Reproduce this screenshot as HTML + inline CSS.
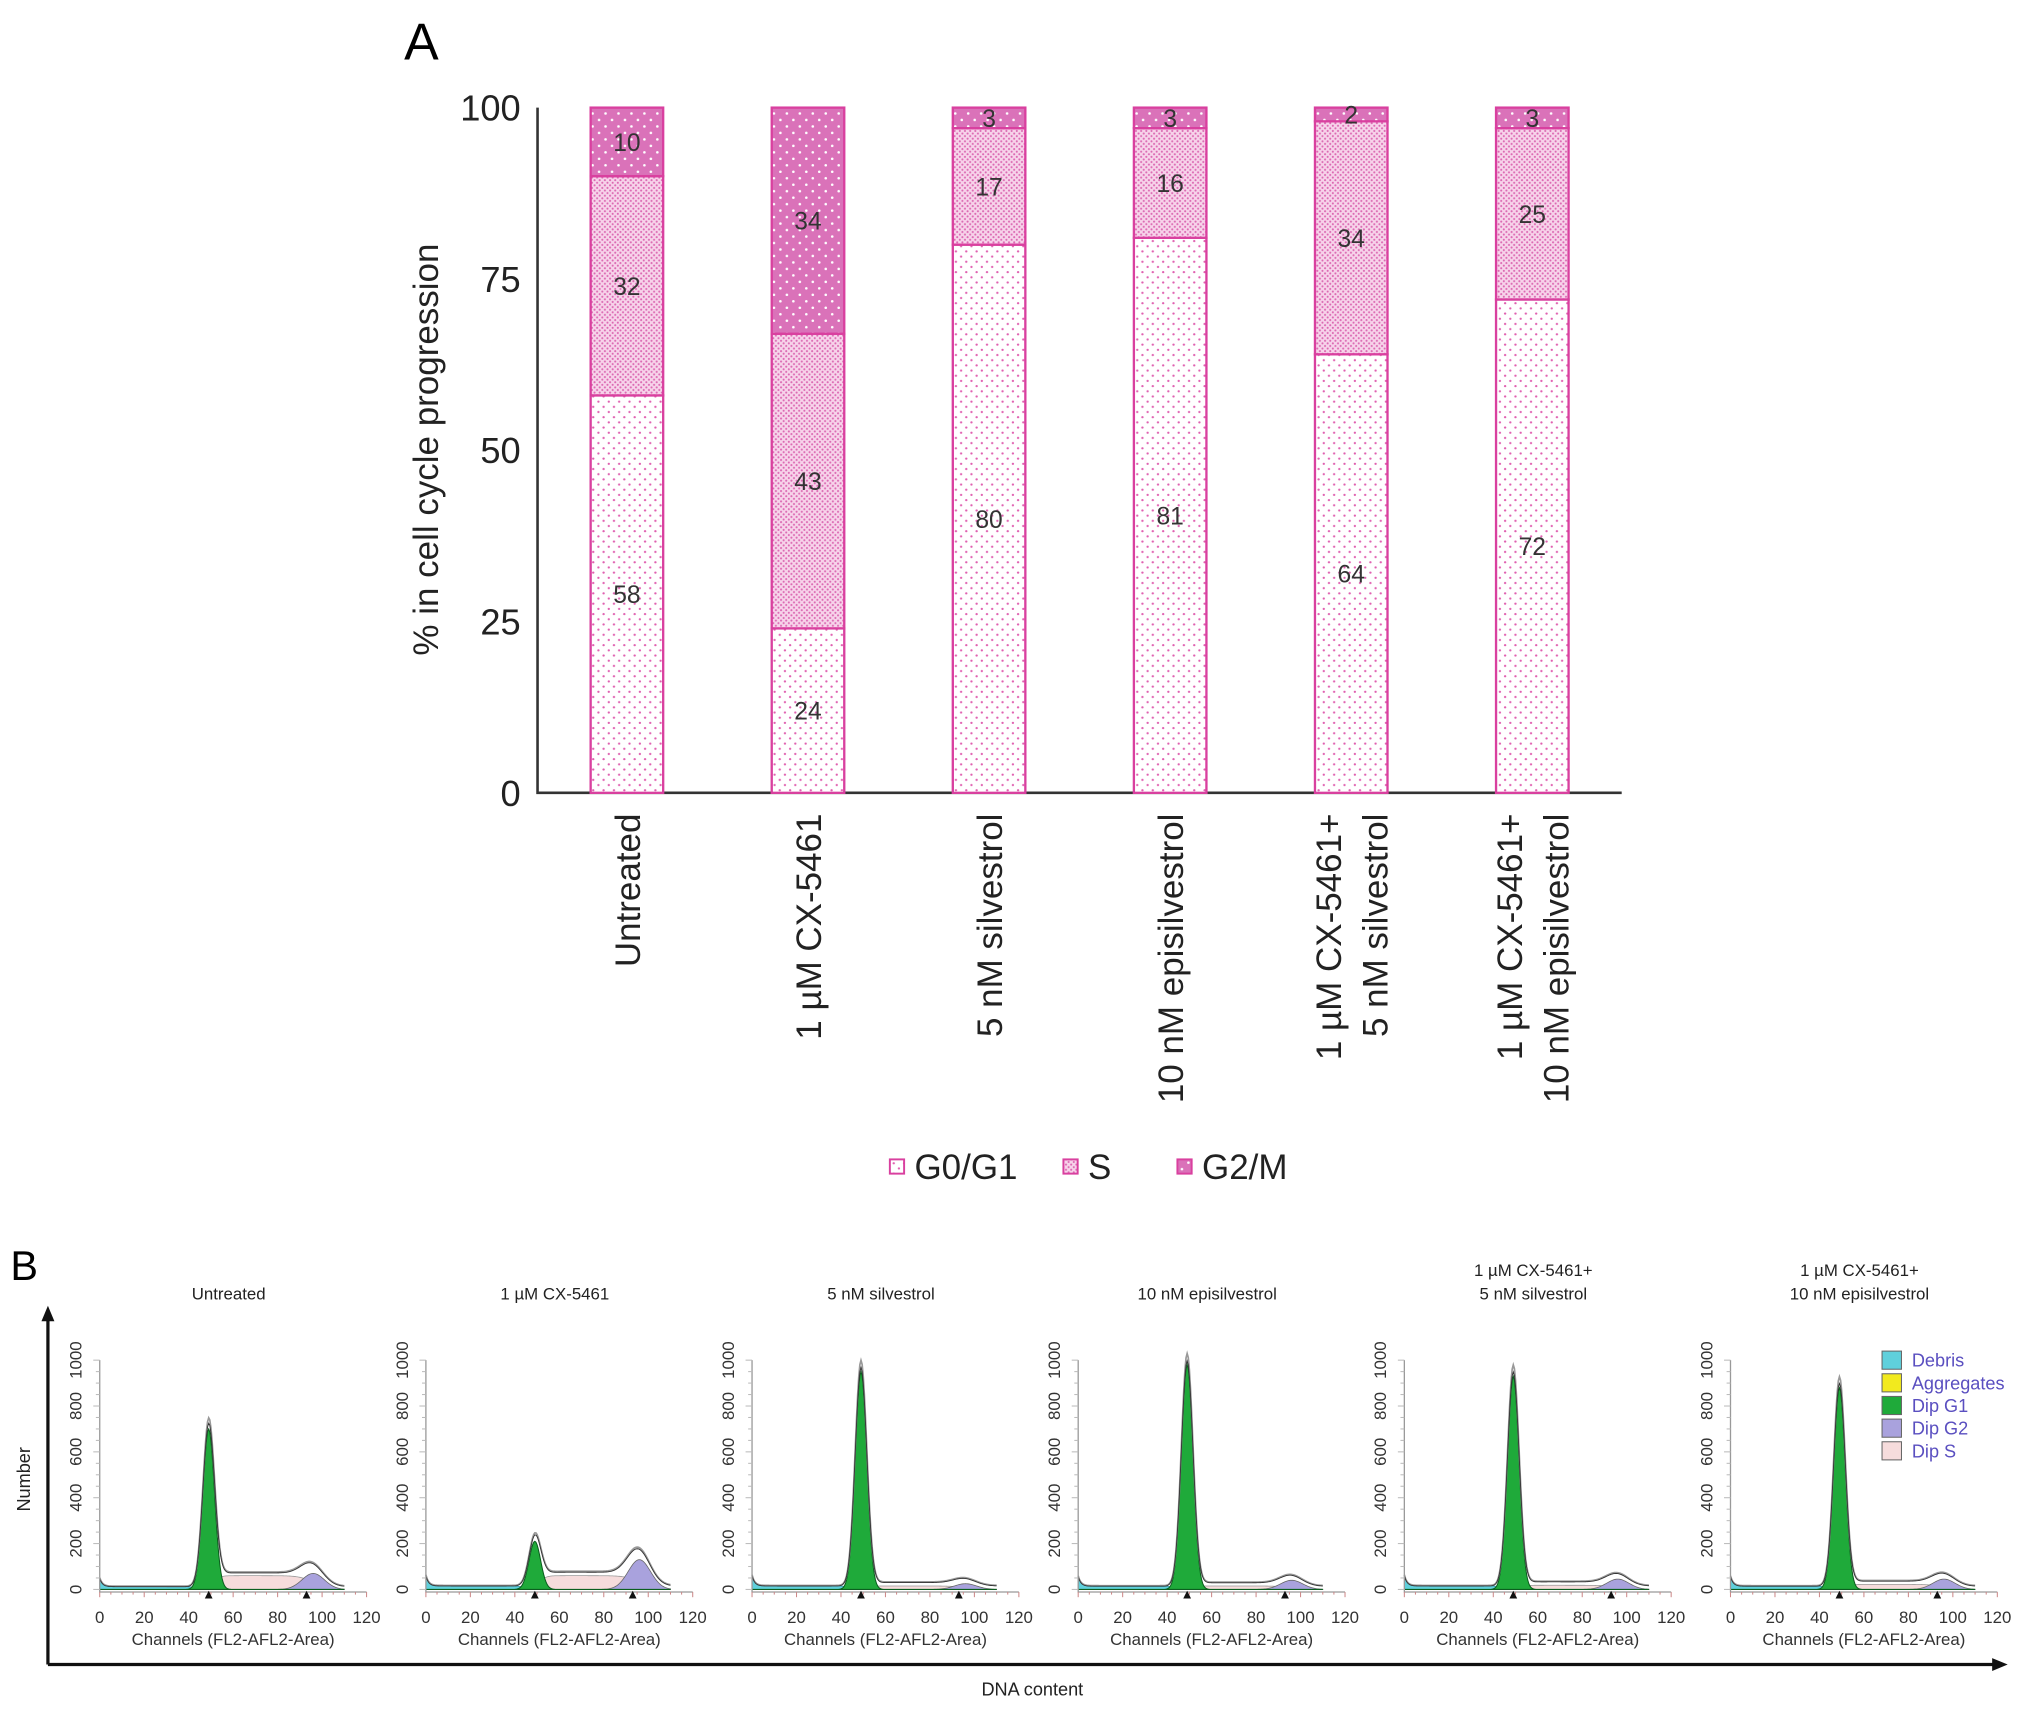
<!DOCTYPE html>
<html><head><meta charset="utf-8"><style>
html,body{margin:0;padding:0;background:#fff}
svg{display:block}
text{font-family:"Liberation Sans",sans-serif}
</style></head><body>
<svg id="fig" width="2031" height="1710" viewBox="0 0 1568 1320" xmlns="http://www.w3.org/2000/svg">
<defs>
<pattern id="pG1" width="8" height="8" patternUnits="userSpaceOnUse"><rect width="8" height="8" fill="#fff"/><circle cx="2" cy="2" r="0.9" fill="#e060b0"/><circle cx="6" cy="6" r="0.9" fill="#e060b0"/></pattern>
<pattern id="pS" width="4" height="4" patternUnits="userSpaceOnUse"><rect width="4" height="4" fill="#f7d3ea"/><circle cx="1" cy="1" r="0.8" fill="#dc6ab3"/><circle cx="3" cy="3" r="0.8" fill="#dc6ab3"/></pattern>
<pattern id="pG2" width="10" height="10" patternUnits="userSpaceOnUse"><rect width="10" height="10" fill="#da72b9"/><circle cx="2.5" cy="2.5" r="1" fill="#fff"/><circle cx="7.5" cy="7.5" r="1" fill="#fff"/></pattern>
</defs>
<g id="panelA"></g>
<g id="panelB"></g>
</svg>
<script>
const categories = [["Untreated"],["1 µM CX-5461"],["5 nM silvestrol"],["10 nM episilvestrol"],["1 µM CX-5461+","5 nM silvestrol"],["1 µM CX-5461+","10 nM episilvestrol"]];
const g1Values = [58,24,80,81,64,72];
const sValues = [32,43,17,16,34,25];
const g2Values = [10,34,3,3,2,3];
const yTicks = [0,25,50,75,100];

const histTitles = [["Untreated"],["1 µM CX-5461"],["5 nM silvestrol"],["10 nM episilvestrol"],["1 µM CX-5461+","5 nM silvestrol"],["1 µM CX-5461+","10 nM episilvestrol"]];
const g1Peak = [700,210,950,980,930,880];
const g2Peak = [70,130,25,40,45,45];
const sLevel = [60,60,15,15,18,22];
const debrisLevel = [12,15,15,14,15,14];
const histXTicks = [0,20,40,60,80,100,120];
const histYTicks = [0,200,400,600,800,1000];

const NS="http://www.w3.org/2000/svg";
function mk(tag,attrs,parent,txt){const e=document.createElementNS(NS,tag);for(const k in attrs)e.setAttribute(k,attrs[k]);if(txt!==undefined)e.textContent=txt;parent.appendChild(e);return e;}

// ---- Panel A ----
const A=document.getElementById('panelA');
const yA=v=>612-Math.min(v,100)*5.29;
const xA=i=>484+i*139.8;
const bw=56;
let t=mk('text',{x:312,y:46,'font-size':40},A,'A');


let ax=mk('path',{d:'M415,83 V612 H1252',stroke:'#333','stroke-width':2,fill:'none'},A);


yTicks.forEach(v=>{
  const e=mk('text',{x:402,y:yA(v)+10,'font-size':28,'text-anchor':'end',fill:'#222'},A,String(v));
  
  
});
t=mk('text',{transform:'translate(338,347) rotate(-90)','font-size':27,'text-anchor':'middle',fill:'#222'},A,'% in cell cycle progression');


categories.forEach((c,i)=>{
  const segs=[[0,g1Values[i],'pG1','g0g1'],[g1Values[i],g1Values[i]+sValues[i],'pS','s'],[g1Values[i]+sValues[i],g1Values[i]+sValues[i]+g2Values[i],'pG2','g2m']];
  segs.forEach(s=>{
    const r=mk('rect',{x:xA(i)-bw/2,y:yA(s[1]),width:bw,height:yA(s[0])-yA(s[1]),fill:'url(#'+s[2]+')',stroke:'#d9409f','stroke-width':1.8},A);
    
    
    const l=mk('text',{x:xA(i),y:(yA(s[0])+yA(s[1]))/2+7,'font-size':19,'text-anchor':'middle',fill:'#333'},A,String(Math.round(s[1]-s[0])));
    
    
  });
  const n=c.length;
  c.forEach((line,j)=>{
    const dx=(j-(n-1)/2)*36;
    const e=mk('text',{transform:`translate(${xA(i)+dx+10},628) rotate(-90)`,'font-size':27,'text-anchor':'end',fill:'#222'},A,line);
    
    
  });
});
const leg=[['G0/G1','pG1',692],['S','pS',826],['G2/M','pG2',914]];
leg.forEach(l=>{
  const g=mk('g',{},A);
  
  
  mk('rect',{x:l[2]-5,y:895,width:11,height:11,fill:'url(#'+l[1]+')',stroke:'#d9409f','stroke-width':1.5},g);
  mk('text',{x:l[2]+14,y:910,'font-size':27,fill:'#222'},g,l[0]);
});

// ---- Panel B ----
const B=document.getElementById('panelB');
t=mk('text',{x:8,y:988,'font-size':32},B,'B');


let ar=mk('path',{d:'M37,1285 H1540 M37,1285 V1018',stroke:'#111','stroke-width':2.5,fill:'none'},B);


mk('path',{d:'M37,1008 L32,1020 L42,1020 Z',fill:'#111'},B);
mk('path',{d:'M1550,1285 L1538,1280 L1538,1290 Z',fill:'#111'},B);
t=mk('text',{x:797,y:1309,'font-size':14,'text-anchor':'middle',fill:'#222'},B,'DNA content');


t=mk('text',{transform:'translate(23,1142) rotate(-90)','font-size':14,'text-anchor':'middle',fill:'#222'},B,'Number');



function gauss(x,mu,sd){return Math.exp(-0.5*((x-mu)/sd)**2);}
function sig(x){return 1/(1+Math.exp(-x));}
histTitles.forEach((tt,i)=>{
  const x0=77+251.8*i, xs=206/120, y0=1227, ys=177/1000;
  const X=c=>x0+c*xs, Y=v=>y0-v*ys;
  const g=mk('g',{},B);
  
  
  tt.forEach((line,j)=>{
    const e=mk('text',{x:X(58),y:1003-(tt.length-1-j)*18,'font-size':13,'text-anchor':'middle',fill:'#222'},g,line);
    
    
  });
  const comp=c=>{
    const d=debrisLevel[i]*(1+3*Math.exp(-c/1.2));
    const g1=g1Peak[i]*gauss(c,49,2.6);
    const s=sLevel[i]*sig((c-51)/1.5)*sig((96-c)/3);
    const g2=g2Peak[i]*gauss(c,96,5);
    return {d,g1,s,g2};
  };
  const pts=[];for(let c=0;c<=110;c+=0.5)pts.push(c);
  const area=(f)=>'M'+pts.map(c=>X(c)+','+Y(f(c))).join(' L')+' L'+X(110)+','+Y(0)+' L'+X(0)+','+Y(0)+' Z';
  let p;
  p=mk('path',{d:area(c=>comp(c).d*sig((46-c)/2)),fill:'#5fd0dc',stroke:'#3a9aa8','stroke-width':0.6},g);
  
  p=mk('path',{d:area(c=>comp(c).s),fill:'#f6dcdc',stroke:'#999','stroke-width':0.6},g);
  
  p=mk('path',{d:area(c=>comp(c).g2),fill:'#a9a2dd',stroke:'#666','stroke-width':0.6},g);
  
  p=mk('path',{d:area(c=>comp(c).g1),fill:'#1faa3a',stroke:'#0b5e1e','stroke-width':0.8},g);
  
  const tot=c=>{const o=comp(c);return o.d+o.g1+o.s+o.g2;};
  p=mk('path',{d:'M'+pts.map(c=>X(c)+','+Y(tot(c)*1.03+2)).join(' L'),fill:'none',stroke:'#999','stroke-width':1.3},g);
  
  p=mk('path',{d:'M'+pts.map(c=>X(c)+','+Y(tot(c))).join(' L'),fill:'none',stroke:'#333','stroke-width':0.7},g);
  
  mk('path',{d:`M${X(0)},${Y(1000)} V${y0+2} H${X(120)}`,stroke:'#999','stroke-width':1,fill:'none'},g);
  for(let c=0;c<=120;c+=5)mk('line',{x1:X(c),x2:X(c),y1:y0+2,y2:y0+(c%20==0?6:4),stroke:'#c88','stroke-width':0.8},g);
  for(let v=0;v<=1000;v+=50)mk('line',{x1:X(0)-(v%200==0?5:3),x2:X(0),y1:Y(v),y2:Y(v),stroke:'#bbb','stroke-width':0.8},g);
  mk('path',{d:`M${X(49)-3},${y0+7} L${X(49)},${y0+1} L${X(49)+3},${y0+7} Z`,fill:'#111'},g);
  mk('path',{d:`M${X(93)-3},${y0+7} L${X(93)},${y0+1} L${X(93)+3},${y0+7} Z`,fill:'#111'},g);
  histXTicks.forEach(v=>{
    const e=mk('text',{x:X(v),y:1253,'font-size':13,'text-anchor':'middle',fill:'#333'},g,String(v));
    
  });
  histYTicks.forEach(v=>{
    const e=mk('text',{transform:`translate(${X(0)-14},${Y(v)}) rotate(-90)`,'font-size':13,'text-anchor':'middle',fill:'#333'},g,String(v));
    
  });
  t=mk('text',{x:X(60),y:1270,'font-size':13,'text-anchor':'middle',fill:'#333'},g,'Channels (FL2-AFL2-Area)');
  
});
const hl=[['Debris','#5fd0dc'],['Aggregates','#f2ea1e'],['Dip G1','#1faa3a'],['Dip G2','#a9a2dd'],['Dip S','#f6dcdc']];
hl.forEach((h,j)=>{
  const g=mk('g',{},B);
  
  
  mk('rect',{x:1453,y:1043+j*17.5,width:15,height:14,fill:h[1],stroke:'#666','stroke-width':0.8},g);
  mk('text',{x:1476,y:1055+j*17.5,'font-size':14,fill:'#5a4fc0'},g,h[0]);
});
</script>
</body></html>
